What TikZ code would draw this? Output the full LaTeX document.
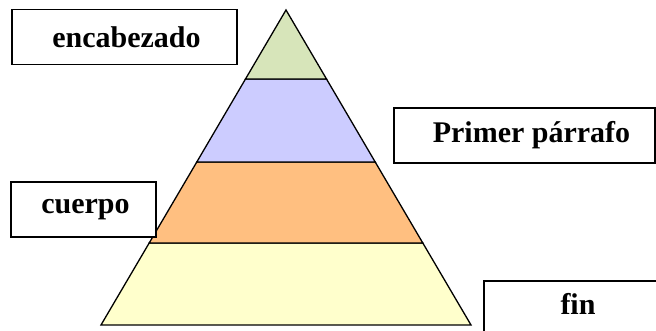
\documentclass[tikz,border=0pt]{standalone}
\usepackage{fontspec}
\setmainfont{Liberation Serif}
\usetikzlibrary{positioning}
\definecolor{verde}{RGB}{215,229,186}
\definecolor{lila}{RGB}{204,204,255}
\definecolor{naranja}{RGB}{255,191,128}
\definecolor{amarillo}{RGB}{255,255,204}

\begin{document}
\begin{tikzpicture}[x=1pt, y=1pt,
    caja/.style={draw, line width=1.5pt, fill=white, inner sep=0pt,
        minimum height=55pt, font=\fontsize{30}{36}\selectfont\bfseries},
    franja/.style={draw, line width=1.3pt, line join=miter}]
    \useasboundingbox (0,0) rectangle (656,331);
    \clip (0,0) rectangle (656,331);
    % piramide
    \coordinate (cima) at (286,321);
    \coordinate (a1) at (245.5,252); \coordinate (b1) at (326.5,252);
    \coordinate (a2) at (196.8,169); \coordinate (b2) at (375.2,169);
    \coordinate (a3) at (149.2,88);  \coordinate (b3) at (422.8,88);
    \coordinate (a4) at (101,6);     \coordinate (b4) at (471,6);
    \draw[franja, fill=amarillo] (a3) -- (b3) -- (b4) -- (a4) -- cycle;
    \draw[franja, fill=naranja] (a2) -- (b2) -- (b3) -- (a3) -- cycle;
    \draw[franja, fill=lila] (a1) -- (b1) -- (b2) -- (a2) -- cycle;
    \draw[franja, fill=verde] (cima) -- (b1) -- (a1) -- cycle;
    % cajas
    \node[caja, minimum width=225pt] (enc) at (124.5,294) {\hspace*{4pt}encabezado};
    \node[caja, minimum width=261pt] (pri) at (524.5,195.5) {\hspace*{14pt}Primer párrafo};
    \node[caja, minimum width=145pt] (cue) at (83.5,121.5) {\hspace*{4pt}cuerpo};
    \node[caja, minimum width=188pt, text depth=10pt] (fin) at (578,22.5) {fin};
\end{tikzpicture}
\end{document}
